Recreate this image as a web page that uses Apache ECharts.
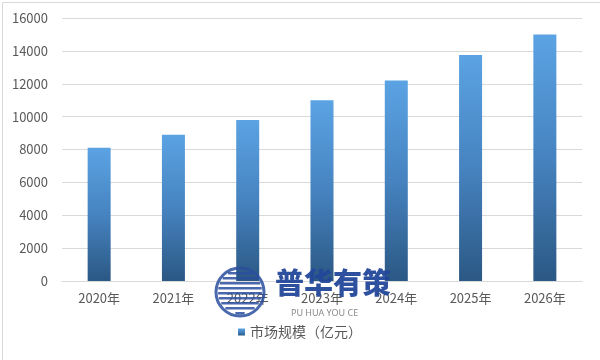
<!DOCTYPE html>
<html><head><meta charset="utf-8">
<script src="https://cdn.jsdelivr.net/npm/echarts@6/dist/echarts.min.js"></script>
<style>html,body{margin:0;padding:0;background:#fff}#c{width:600px;height:360px}</style>
</head><body><div id="c"></div>
<script>
const categories = ['2020年','2021年','2022年','2023年','2024年','2025年','2026年'];
const values = [8100, 8900, 9800, 11000, 12200, 13750, 15000];
const seriesName = '市场规模（亿元）';
const yTicks = [0, 2000, 4000, 6000, 8000, 10000, 12000, 14000, 16000];

const chart = echarts.init(document.getElementById('c'));
const font = '"Microsoft YaHei","Noto Sans CJK SC",sans-serif';
const stripes = [];
for (let i = 0; i < 9; i++) {
  const y = 272 + i * 5;
  const dy = y + 1.5 - 292;
  const half = Math.sqrt(Math.max(0, 22 * 22 - dy * dy));
  stripes.push({type: 'rect', shape: {x: 240 - half, y: y, width: half * 2, height: 2.5},
    style: {fill: '#2a4f9e', opacity: 0.85}, silent: true, z: 100});
}
chart.setOption({
  animation: false,
  backgroundColor: '#fff',
  textStyle: {fontFamily: font},
  grid: {left: 62, right: 18, top: 18, bottom: 79, containLabel: false},
  legend: {
    bottom: 16, left: 'center', itemWidth: 7, itemHeight: 7, itemGap: 6,
    icon: 'rect',
    textStyle: {color: '#595959', fontSize: 14, fontFamily: font},
    data: [seriesName]
  },
  xAxis: {
    type: 'category', data: categories,
    axisLine: {show: true, lineStyle: {color: '#d9d9d9'}},
    axisTick: {show: false},
    axisLabel: {color: '#595959', fontSize: 13, margin: 11}
  },
  yAxis: {
    type: 'value', min: yTicks[0], max: yTicks[yTicks.length - 1], interval: 2000,
    axisLine: {show: false}, axisTick: {show: false},
    axisLabel: {color: '#595959', fontSize: 13, margin: 14, formatter: v => String(v)},
    splitLine: {lineStyle: {color: '#d9d9d9'}}
  },
  series: [{
    name: seriesName, type: 'bar', data: values, barWidth: 23,
    itemStyle: {color: new echarts.graphic.LinearGradient(0, 0, 0, 1, [
      {offset: 0, color: '#5ba3e3'}, {offset: 0.5, color: '#4683c0'}, {offset: 1, color: '#2b5884'}
    ])}
  }],
  graphic: [
    {type: 'rect', left: 0, top: 0, shape: {width: 599, height: 359}, style: {fill: 'none', stroke: '#d9d9d9', lineWidth: 1}, silent: true},
    {type: 'circle', shape: {cx: 240, cy: 292, r: 24}, style: {fill: 'none', stroke: '#2a4f9e', lineWidth: 3, opacity: 0.85}, silent: true, z: 100},
    ...stripes,
    {type: 'text', left: 275, top: 268, style: {text: '普华有策', fill: '#22479a', font: '900 29px "Noto Sans CJK SC"', opacity: 0.95}, silent: true, z: 100},
    {type: 'text', left: 291, top: 309, style: {text: 'PU HUA YOU CE', fill: '#8a8a8a', font: '9px "Noto Sans"'}, silent: true, z: 100}
  ]
});
</script></body></html>
